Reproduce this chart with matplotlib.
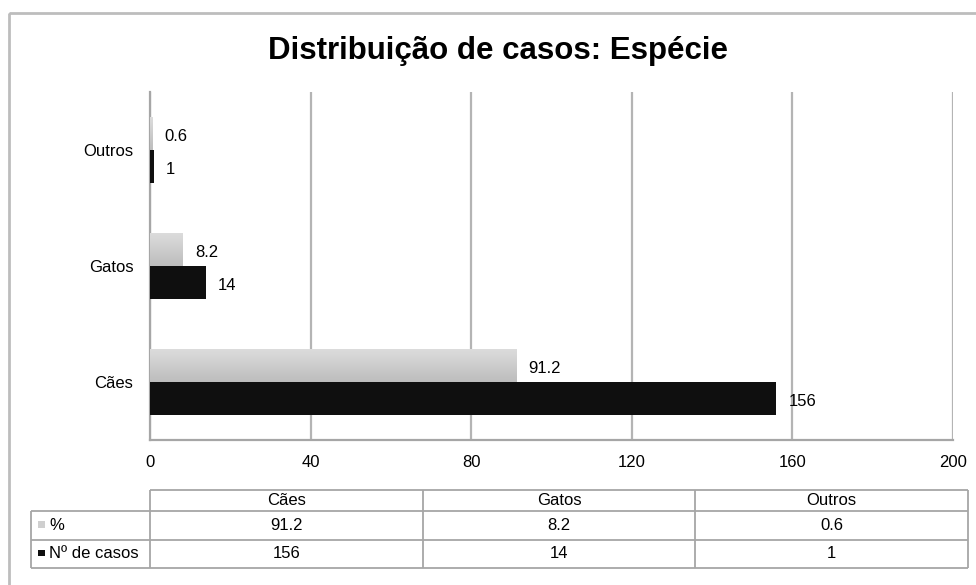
import matplotlib
matplotlib.use("Agg")
import matplotlib.pyplot as plt
import numpy as np
from matplotlib.colors import LinearSegmentedColormap
from matplotlib.patches import Rectangle

# --- data ---
categories = ["Cães", "Gatos", "Outros"]
pct = [91.2, 8.2, 0.6]
n_casos = [156, 14, 1]
pct_labels = ["91.2", "8.2", "0.6"]
n_labels = ["156", "14", "1"]
series_names = ["%", "Nº de casos"]
series_colors = ["#cfcfcf", "#0f0f0f"]
x_ticks = [0, 40, 80, 120, 160, 200]

W, H = 976, 585
GRID = "#b4b4b4"
EDGE = "#a6a6a6"
FS = 12

plt.rcParams["font.family"] = ["Liberation Sans", "DejaVu Sans"]
fig = plt.figure(figsize=(W / 100, H / 100), dpi=100)

# overlay axes in pixel coordinates for frame, title and table
over = fig.add_axes([0, 0, 1, 1])
over.set_xlim(0, W)
over.set_ylim(H, 0)
over.axis("off")

# outer chart frame (partly cropped in the reference)
over.add_patch(Rectangle((9, 13), W + 20, H + 20, fill=False, edgecolor="#bdbdbd", linewidth=2))
over.text(498, 51, "Distribuição de casos: Espécie", ha="center", va="center",
          fontsize=22.5, fontweight="bold")

ax = fig.add_axes([150 / W, 1 - 440 / H, 803 / W, 348 / H])
ys = np.arange(len(categories))
h = 0.283

gray_bars = ax.barh(ys + h / 2, pct, height=h, color="none", edgecolor="none", zorder=3)
ax.barh(ys - h / 2, n_casos, height=h, color=series_colors[1], zorder=3)

# light gray gradient fill of the % bars
cmap = LinearSegmentedColormap.from_list("g", ["#bdbdbd", "#dcdcdc"])
grad = np.linspace(0, 1, 64).reshape(-1, 1)
for bar in gray_bars:
    x0, y0 = bar.get_x(), bar.get_y()
    im = ax.imshow(grad, cmap=cmap, extent=(x0, x0 + bar.get_width(), y0, y0 + bar.get_height()),
                   origin="lower", aspect="auto", zorder=3)
    im.set_clip_path(bar)

for vals, yy, labs in ((pct, ys + h / 2, pct_labels), (n_casos, ys - h / 2, n_labels)):
    for v, y, lab in zip(vals, yy, labs):
        ax.annotate(lab, xy=(v, y), xytext=(8.6, -2), textcoords="offset points",
                    va="center", ha="left", fontsize=FS)

ax.set_xlim(0, 200)
ax.set_ylim(-0.5, 2.5)
ax.set_xticks(x_ticks)
ax.set_yticks(ys)
ax.set_yticklabels(categories)
ax.tick_params(axis="both", length=0, labelsize=FS)
ax.tick_params(axis="x", pad=11)
ax.tick_params(axis="y", pad=12)
ax.grid(axis="x", color=GRID, linewidth=1.6)
ax.set_axisbelow(True)
for s in ("top", "right"):
    ax.spines[s].set_visible(False)
for s in ("left", "bottom"):
    ax.spines[s].set_color(EDGE)
    ax.spines[s].set_linewidth(1.6)

# --- data table under the chart (pixel coordinates) ---
col_x = [31, 150, 422.7, 695.3, 968]
row_y = [490, 511, 540, 568]
lw = 1.3
over.hlines(row_y[0], col_x[1], col_x[-1], color=EDGE, lw=lw)
over.hlines(row_y[1:], col_x[0], col_x[-1], color=EDGE, lw=lw)
over.vlines(col_x[1:], row_y[0], row_y[-1], color=EDGE, lw=lw)
over.vlines(col_x[0], row_y[1], row_y[-1], color=EDGE, lw=lw)

for j, cat in enumerate(categories):
    cx = (col_x[j + 1] + col_x[j + 2]) / 2
    over.text(cx, (row_y[0] + row_y[1]) / 2, cat, ha="center", va="center", fontsize=FS)
for i, labs in enumerate((pct_labels, n_labels)):
    cy = (row_y[i + 1] + row_y[i + 2]) / 2
    over.add_patch(Rectangle((38, cy - 4.5), 6.5, 6.5, facecolor=series_colors[i], edgecolor="none"))
    over.text(49, cy, series_names[i], ha="left", va="center", fontsize=FS)
    for j, lab in enumerate(labs):
        cx = (col_x[j + 1] + col_x[j + 2]) / 2
        over.text(cx, cy, lab, ha="center", va="center", fontsize=FS)

fig.savefig("out.png", dpi=100)
